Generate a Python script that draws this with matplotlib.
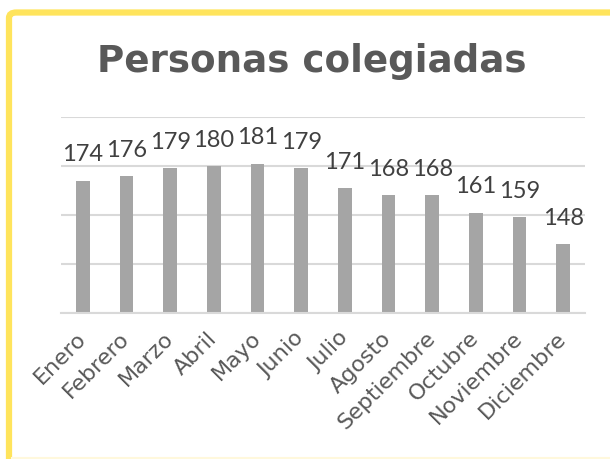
import matplotlib.pyplot as plt
from matplotlib.patches import FancyBboxPatch

# --- Data ---
meses = ['Enero', 'Febrero', 'Marzo', 'Abril', 'Mayo', 'Junio', 'Julio',
         'Agosto', 'Septiembre', 'Octubre', 'Noviembre', 'Diciembre']
colegiadas = [174, 176, 179, 180, 181, 179, 171, 168, 168, 161, 159, 148]

W, H = 610, 459
fig = plt.figure(figsize=(W / 100, H / 100), dpi=100)
fig.patch.set_facecolor('white')

# --- Yellow frame (only top/left visible, rest runs off the image) ---
frame = FancyBboxPatch((9 / W, -0.2), 1.2, 1.2 - 12.5 / H,
                       boxstyle='round,pad=0,rounding_size=0.012',
                       transform=fig.transFigure, fill=False,
                       edgecolor='#FFE45C', linewidth=4.5, zorder=0)
fig.add_artist(frame)
fig.add_artist(plt.Line2D([12 / W, 1], [1 - 457.5 / H] * 2, transform=fig.transFigure,
                          color='#FFF8DC', linewidth=1.5))

# --- Axes ---
ax = fig.add_axes([61 / W, 1 - 313 / H, (585 - 61) / W, (313 - 117) / H])
x = range(len(meses))
bars = ax.bar(x, colegiadas, width=0.32, color='#A5A5A5', zorder=2)
ax.set_ylim(120, 200)
ax.set_xlim(-0.5, len(meses) - 0.5)
ax.set_yticks([120, 140, 160, 180, 200])
ax.yaxis.grid(True, color='#D9D9D9', linewidth=1.5, zorder=0)
ax.tick_params(axis='y', left=False, labelleft=False)
ax.tick_params(axis='x', length=0, pad=16)
for s in ['top', 'right', 'left']:
    ax.spines[s].set_visible(False)
ax.spines['bottom'].set_color('#D9D9D9')
ax.spines['bottom'].set_linewidth(1.5)
ax.set_xticks(list(x))
ax.set_xticklabels(meses, rotation=45, ha='right', va='center', rotation_mode='anchor',
                   fontsize=16, color='#595959', family='DejaVu Sans')

# --- Data labels ---
for b, v in zip(bars, colegiadas):
    ax.annotate(str(v), (b.get_x() + b.get_width() / 2, v), xytext=(0, 11),
                textcoords='offset points', ha='center', va='bottom',
                fontsize=17, color='#404040', family='Lato', clip_on=False)

# --- Title ---
fig.text(0.511, 1 - 62 / H, 'Personas colegiadas', ha='center', va='center',
         fontsize=26.8, fontweight='bold', color='#595959', family='DejaVu Sans')

fig.savefig('out.png', dpi=100)
